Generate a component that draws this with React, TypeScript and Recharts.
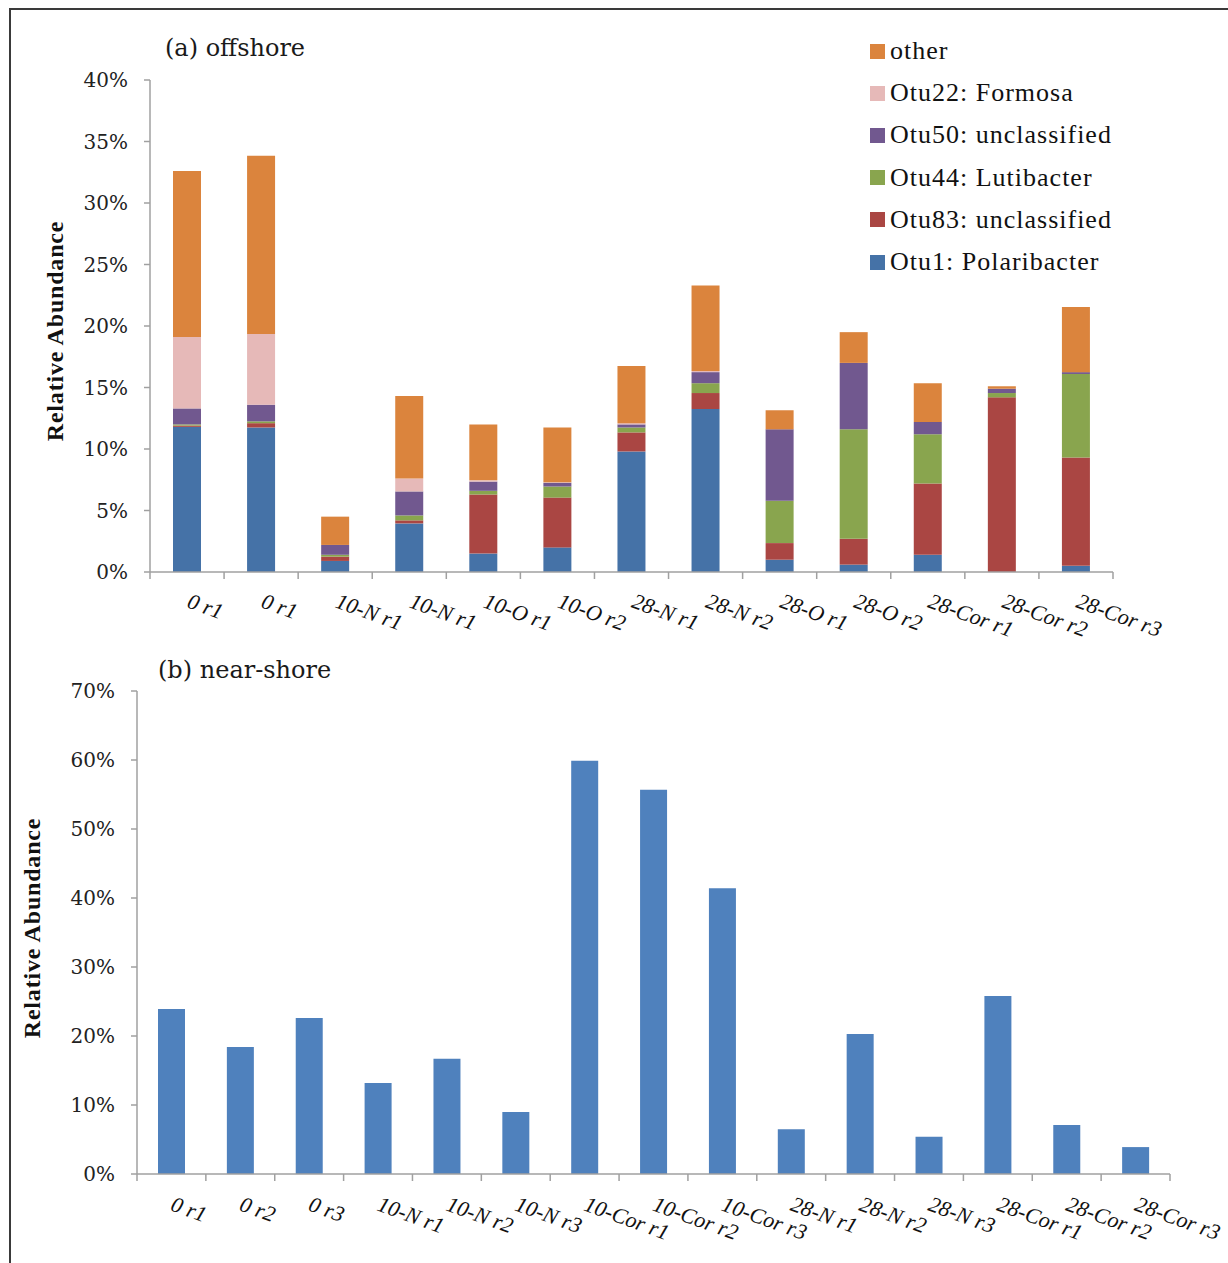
import { BarChart, Bar, XAxis, YAxis, Legend } from "recharts";

// (a) offshore
const offshoreSamples = [
  "0 r1", "0 r1", "10-N r1", "10-N r1", "10-O r1", "10-O r2", "28-N r1",
  "28-N r2", "28-O r1", "28-O r2", "28-Cor r1", "28-Cor r2", "28-Cor r3",
];
const otu1 = [11.8, 11.75, 0.9, 3.95, 1.5, 2.0, 9.8, 13.25, 1.0, 0.6, 1.4, 0, 0.5];
const otu83 = [0.1, 0.35, 0.35, 0.25, 4.8, 4.05, 1.55, 1.3, 1.35, 2.1, 5.8, 14.2, 8.8];
const otu44 = [0.1, 0.15, 0.15, 0.4, 0.3, 0.9, 0.4, 0.8, 3.45, 8.9, 4.0, 0.35, 6.8];
const otu50 = [1.3, 1.35, 0.8, 1.95, 0.75, 0.3, 0.25, 0.9, 5.8, 5.4, 1.0, 0.35, 0.15];
const otu22 = [5.8, 5.75, 0, 1.05, 0.1, 0.05, 0.1, 0.1, 0, 0, 0, 0, 0];
const other = [13.5, 14.5, 2.3, 6.7, 4.55, 4.45, 4.65, 6.95, 1.55, 2.5, 3.15, 0.2, 5.3];
const offshoreTicks = [0, 5, 10, 15, 20, 25, 30, 35, 40];

// (b) near-shore
const nearSamples = [
  "0 r1", "0 r2", "0 r3", "10-N r1", "10-N r2", "10-N r3", "10-Cor r1",
  "10-Cor r2", "10-Cor r3", "28-N r1", "28-N r2", "28-N r3", "28-Cor r1",
  "28-Cor r2", "28-Cor r3",
];
const nearOtu1 = [23.9, 18.4, 22.6, 13.2, 16.7, 9.0, 59.9, 55.7, 41.4, 6.5, 20.3, 5.4, 25.8, 7.1, 3.9];
const nearTicks = [0, 10, 20, 30, 40, 50, 60, 70];

const series = [
  { key: "otu1", name: "Otu1: Polaribacter", color: "#4572A7" },
  { key: "otu83", name: "Otu83: unclassified", color: "#AA4643" },
  { key: "otu44", name: "Otu44: Lutibacter", color: "#89A54E" },
  { key: "otu50", name: "Otu50: unclassified", color: "#71588F" },
  { key: "otu22", name: "Otu22: Formosa", color: "#E6B9B8" },
  { key: "other", name: "other", color: "#DB843D" },
];

const offshoreData = offshoreSamples.map((s, i) => ({
  idx: i,
  sample: s,
  otu1: otu1[i],
  otu83: otu83[i],
  otu44: otu44[i],
  otu50: otu50[i],
  otu22: otu22[i],
  other: other[i],
}));

const nearData = nearSamples.map((s, i) => ({ idx: i, sample: s, otu1: nearOtu1[i] }));

const AXIS = "#a0a0a0";
const SERIF = "'Liberation Serif', 'Times New Roman', serif";
const TICK_FONT = "'DejaVu Serif', serif";

const makeXTick = (labels: string[], axisY: number, band: number, dx: number, dy: number) =>
  (props: any) => {
    const { x, payload, index } = props;
    const last = index === labels.length - 1;
    const tx = x + dx;
    const ty = axisY + dy;
    return (
      <g>
        <line x1={x - band / 2} x2={x - band / 2} y1={axisY} y2={axisY + 7} stroke={AXIS} strokeWidth={1.5} />
        {last && (
          <line x1={x + band / 2} x2={x + band / 2} y1={axisY} y2={axisY + 7} stroke={AXIS} strokeWidth={1.5} />
        )}
        <text
          x={tx}
          y={ty}
          transform={`rotate(20, ${tx}, ${ty})`}
          textAnchor="start"
          fontFamily={SERIF}
          fontStyle="italic"
          fontSize={22}
          fill="#111"
        >
          {labels[payload.value]}
        </text>
      </g>
    );
  };

// zero-height box so the legend takes no room from the plot
const renderLegend = () => (
  <div style={{ height: 0, overflow: "visible" }}>
    <div style={{ fontFamily: SERIF, fontSize: 26, letterSpacing: 1, color: "#111" }}>
      {[...series].reverse().map((s) => (
        <div key={s.key} style={{ display: "flex", alignItems: "center", height: 42.2 }}>
          <span style={{ width: 15, height: 15, background: s.color, marginRight: 5, display: "inline-block" }} />
          <span style={{ whiteSpace: "nowrap" }}>{s.name}</span>
        </div>
      ))}
    </div>
  </div>
);

const yLabelStyle = (cx: number, cy: number): any => ({
  position: "absolute",
  left: cx - 150,
  top: cy - 15,
  width: 300,
  height: 30,
  lineHeight: "30px",
  textAlign: "center",
  transform: "rotate(-90deg)",
  fontFamily: SERIF,
  fontWeight: "bold",
  fontSize: 24,
  letterSpacing: 0.8,
  color: "#111",
});

const titleStyle = (left: number, top: number): any => ({
  position: "absolute",
  left,
  top,
  fontFamily: TICK_FONT,
  fontSize: 24,
  color: "#1a1a1a",
  whiteSpace: "nowrap",
});

const App = () => {
  const topBand = (1113 - 150) / offshoreSamples.length;
  const botBand = (1170 - 137) / nearSamples.length;
  return (
    <div style={{ position: "absolute", left: 0, top: 0, width: 1228, height: 1263, overflow: "hidden", background: "#fff" }}>
      <div style={{ position: "absolute", left: 9, top: 8, width: 1300, height: 1300, border: "2px solid #3a3a3a" }} />

      <div style={{ position: "absolute", left: 0, top: 0 }}>
        <BarChart
          width={1228}
          height={670}
          data={offshoreData}
          margin={{ top: 80, right: 115, bottom: 38, left: 90 }}
          barSize={28}
        >
          <XAxis
            dataKey="idx"
            type="category"
            height={60}
            stroke={AXIS}
            strokeWidth={1.5}
            tickLine={false}
            tickSize={0}
            interval={0}
            tick={makeXTick(offshoreSamples, 572, topBand, -1, 35)}
          />
          <YAxis
            width={60}
            domain={[0, 40]}
            ticks={offshoreTicks}
            interval={0}
            stroke={AXIS}
            strokeWidth={1.5}
            tickSize={6}
            tickMargin={16}
            tickFormatter={(v: number) => `${v}%`}
            tick={{ fill: "#222", fontFamily: TICK_FONT, fontSize: 20 }}
          />
          {series.map((s) => (
            <Bar key={s.key} dataKey={s.key} name={s.name} stackId="a" fill={s.color} isAnimationActive={false} />
          ))}
          <Legend
            verticalAlign="top"
            content={renderLegend}
            wrapperStyle={{ position: "absolute", left: 870, top: 30, width: 320, height: 0 }}
          />
        </BarChart>
      </div>

      <div style={{ position: "absolute", left: 0, top: 650 }}>
        <BarChart
          width={1228}
          height={613}
          data={nearData}
          margin={{ top: 41, right: 58, bottom: 9, left: 77 }}
          barSize={27}
        >
          <XAxis
            dataKey="idx"
            type="category"
            height={80}
            stroke={AXIS}
            strokeWidth={1.5}
            tickLine={false}
            tickSize={0}
            interval={0}
            tick={makeXTick(nearSamples, 524, botBand, -2, 36)}
          />
          <YAxis
            width={60}
            domain={[0, 70]}
            ticks={nearTicks}
            interval={0}
            stroke={AXIS}
            strokeWidth={1.5}
            tickSize={6}
            tickMargin={16}
            tickFormatter={(v: number) => `${v}%`}
            tick={{ fill: "#222", fontFamily: TICK_FONT, fontSize: 20 }}
          />
          <Bar dataKey="otu1" name="Otu1: Polaribacter" fill="#4F81BD" isAnimationActive={false} />
        </BarChart>
      </div>

      <div style={titleStyle(165, 34)}>(a) offshore</div>
      <div style={titleStyle(158, 656)}>(b) near-shore</div>
      <div style={yLabelStyle(55, 331)}>Relative Abundance</div>
      <div style={yLabelStyle(32, 928)}>Relative Abundance</div>
    </div>
  );
};

export default App;
